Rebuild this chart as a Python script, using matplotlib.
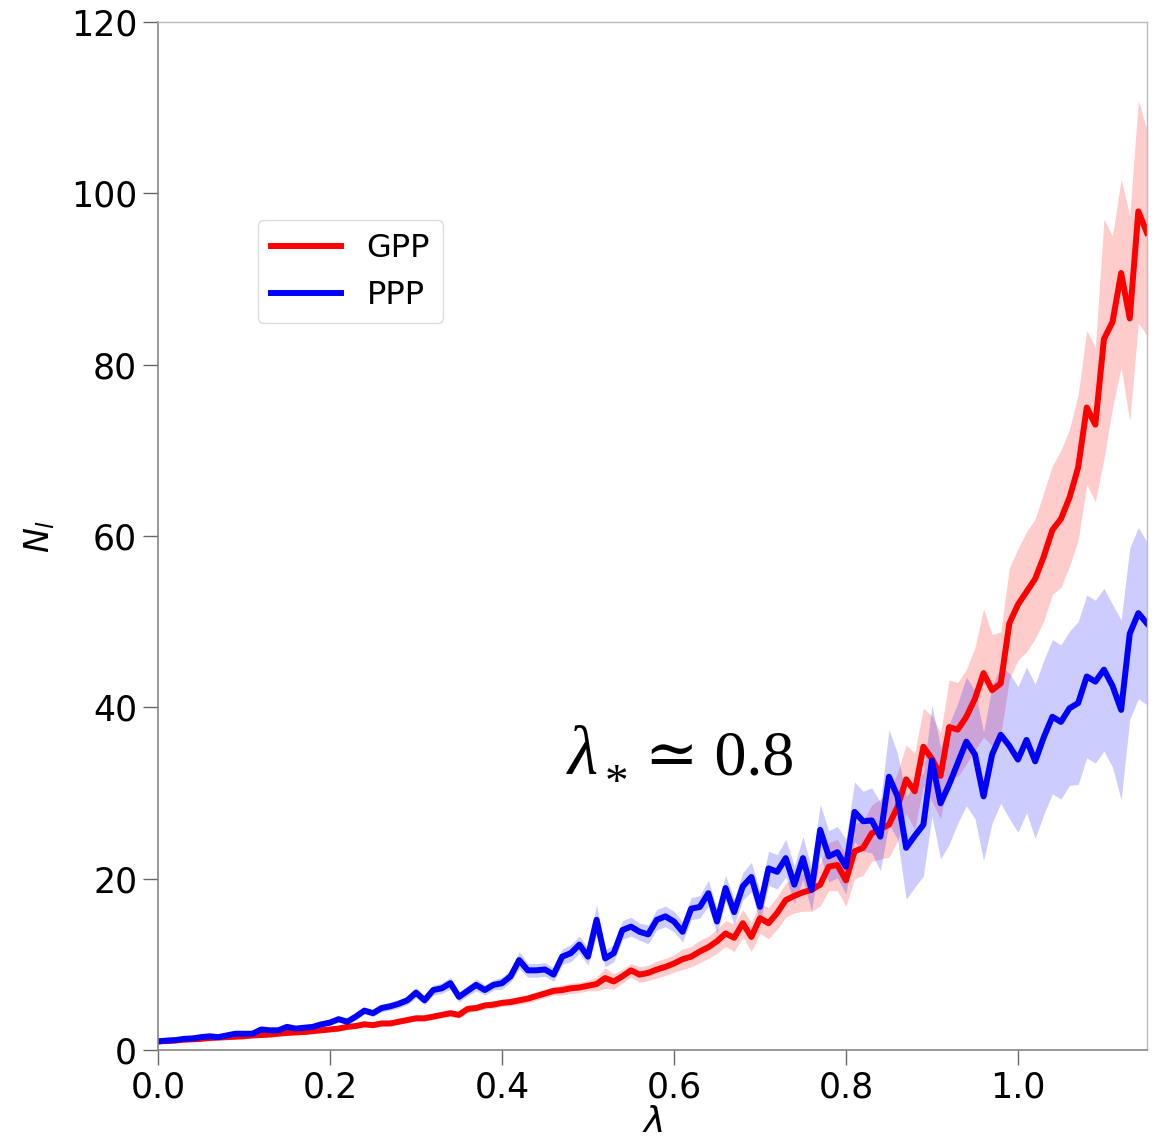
#! /usr/bin/env python3

import matplotlib
matplotlib.use('Agg')
import matplotlib.pyplot as plt
import numpy as np


# lambda grid, step 0.01
lam = np.round(np.arange(0, 116) * 0.01, 2)

gpp_mean = [
    1.0, 1.05, 1.1, 1.2, 1.25, 1.3, 1.4, 1.45, 1.5, 1.55,
    1.6, 1.7, 1.75, 1.8, 1.9, 2.0, 2.05, 2.1, 2.2, 2.3,
    2.4, 2.5, 2.7, 2.8, 3.0, 2.9, 3.1, 3.1, 3.3, 3.5,
    3.7, 3.7, 3.9, 4.1, 4.3, 4.1, 4.8, 4.9, 5.2, 5.3,
    5.5, 5.6, 5.8, 6.0, 6.3, 6.6, 6.9, 7.0, 7.2, 7.3,
    7.5, 7.7, 8.4, 8.0, 8.6, 9.3, 8.8, 9.0, 9.4, 9.7,
    10.1, 10.6, 10.9, 11.5, 12.0, 12.7, 13.6, 13.1, 14.8, 13.2,
    15.4, 14.8, 16.0, 17.5, 18.0, 18.4, 18.7, 19.3, 21.4, 21.6,
    19.8, 23.2, 23.6, 25.3, 25.8, 26.3, 28.4, 31.6, 30.2, 35.4,
    34.0, 32.0, 37.7, 37.4, 38.9, 41.0, 44.0, 42.0, 42.8, 49.8,
    52.0, 53.5, 55.0, 57.6, 60.7, 62.0, 64.5, 68.0, 75.0, 73.0,
    83.0, 85.0, 90.7, 85.4, 97.9, 95.4,
]
gpp_sd = [
    0.1, 0.1, 0.1, 0.1, 0.1, 0.1, 0.1, 0.1, 0.1, 0.1,
    0.15, 0.15, 0.15, 0.15, 0.2, 0.2, 0.2, 0.2, 0.2, 0.2,
    0.2, 0.2, 0.25, 0.25, 0.3, 0.3, 0.3, 0.3, 0.3, 0.3,
    0.3, 0.3, 0.35, 0.35, 0.4, 0.4, 0.4, 0.4, 0.4, 0.4,
    0.4, 0.45, 0.45, 0.5, 0.5, 0.5, 0.5, 0.6, 0.6, 0.6,
    0.6, 0.8, 1.2, 0.9, 0.8, 0.8, 0.9, 0.9, 1.0, 1.0,
    1.0, 1.2, 1.2, 1.3, 1.3, 1.4, 1.5, 1.6, 1.6, 1.7,
    1.8, 1.8, 1.9, 2.0, 2.0, 2.2, 2.5, 2.5, 2.8, 3.0,
    3.0, 3.2, 3.2, 3.3, 3.5, 3.8, 4.0, 4.0, 4.5, 4.5,
    5.0, 5.0, 5.5, 5.5, 5.5, 6.0, 7.5, 6.5, 6.0, 6.5,
    6.5, 7.0, 7.0, 7.5, 7.5, 8.0, 8.0, 8.5, 9.0, 9.0,
    14.0, 10.0, 11.0, 12.0, 13.0, 12.0,
]

ppp_mean = [
    1.0, 1.1, 1.15, 1.3, 1.35, 1.5, 1.6, 1.5, 1.7, 1.9,
    1.9, 1.9, 2.4, 2.3, 2.3, 2.7, 2.5, 2.6, 2.7, 3.0,
    3.2, 3.6, 3.3, 3.9, 4.6, 4.3, 4.9, 5.1, 5.4, 5.8,
    6.7, 5.8, 7.0, 7.2, 7.8, 6.2, 6.9, 7.6, 7.0, 7.6,
    7.8, 8.6, 10.5, 9.3, 9.3, 9.4, 8.8, 10.9, 11.3, 12.3,
    10.9, 15.2, 10.7, 11.3, 14.0, 14.4, 13.8, 13.5, 15.2, 15.6,
    15.0, 13.8, 16.5, 16.7, 18.3, 15.0, 18.9, 16.1, 19.1, 20.2,
    16.7, 21.2, 20.8, 22.4, 19.3, 22.4, 18.7, 25.7, 22.6, 23.1,
    21.4, 27.8, 26.7, 26.8, 24.9, 31.9, 29.6, 23.6, 25.0, 26.3,
    33.8, 28.8, 31.0, 33.5, 36.0, 34.5, 29.6, 34.5, 36.8, 35.5,
    33.9, 36.2, 33.7, 36.5, 38.9, 38.3, 39.9, 40.5, 43.6, 43.0,
    44.4, 42.5, 39.7, 48.6, 51.0, 49.8,
]
ppp_sd = [
    0.1, 0.1, 0.1, 0.1, 0.1, 0.1, 0.1, 0.1, 0.1, 0.1,
    0.15, 0.2, 0.2, 0.2, 0.2, 0.25, 0.25, 0.25, 0.3, 0.3,
    0.3, 0.35, 0.35, 0.4, 0.4, 0.4, 0.45, 0.45, 0.5, 0.5,
    0.6, 0.5, 0.6, 0.6, 0.7, 0.6, 0.6, 0.7, 0.6, 0.6,
    0.7, 0.7, 1.0, 0.8, 0.8, 0.8, 0.8, 0.9, 1.0, 1.0,
    1.0, 1.8, 1.0, 1.0, 1.1, 1.1, 1.0, 1.1, 1.2, 1.2,
    1.2, 1.2, 1.3, 1.3, 1.5, 1.4, 1.5, 1.5, 1.6, 1.7,
    1.8, 2.0, 2.0, 2.2, 2.2, 2.5, 2.5, 3.0, 3.0, 3.0,
    3.2, 3.5, 3.5, 3.8, 4.0, 5.5, 5.0, 6.0, 6.0, 6.0,
    6.5, 6.5, 7.0, 7.0, 7.5, 7.5, 7.5, 8.0, 8.0, 8.5,
    8.5, 8.5, 9.0, 9.0, 9.0, 9.0, 9.0, 9.5, 9.5, 9.5,
    9.5, 9.5, 10.5, 10.0, 10.0, 9.5,
]

series = [
    ('GPP', gpp_mean, gpp_sd, 'red'),
    ('PPP', ppp_mean, ppp_sd, 'blue'),
]

plt.rcParams['mathtext.fontset'] = 'dejavusans'

fig = plt.figure(figsize=(11.59, 11.36), dpi=100)
ax = fig.add_axes([0.1363, 0.0757, 0.8533, 0.9049])

for name, m, s, c in series:
    m = np.array(m)
    s = np.array(s)
    ax.fill_between(lam, m - s, m + s, color=c, alpha=0.2, lw=0)
    ax.plot(lam, m, color=c, lw=4.3, label=name)

ax.set_xlim(0, 1.15)
ax.set_ylim(0, 120)
ax.set_xticks([0.0, 0.2, 0.4, 0.6, 0.8, 1.0])
ax.set_yticks([0, 20, 40, 60, 80, 100, 120])
ax.tick_params(axis='both', labelsize=25, length=11, width=1,
               color='#666666', pad=4)

for side in ['left', 'bottom']:
    ax.spines[side].set_color('#888888')
    ax.spines[side].set_linewidth(1.2)
for side in ['top', 'right']:
    ax.spines[side].set_color('#bbbbbb')
    ax.spines[side].set_linewidth(1.0)

ax.set_xlabel(r'$\lambda$', fontsize=26, labelpad=0)
ax.set_ylabel(r'$N_l$', fontsize=24, labelpad=10)

# annotation in a serif face, built from plain text pieces
serif = ['Liberation Serif', 'DejaVu Serif']
ax.text(0.477, 32.2, '\u03bb', fontsize=50, family=serif, style='italic',
        ha='left', va='baseline')
ax.text(0.52, 29.6, '*', fontsize=34, family=serif,
        ha='left', va='baseline')
ax.text(0.566, 32.2, '\u2243 0.8', fontsize=46, family=serif,
        ha='left', va='baseline')

leg = ax.legend(loc='upper left', bbox_to_anchor=(0.085, 0.823), fontsize=23,
                handlelength=2.2, framealpha=1.0, edgecolor='#dddddd')

fig.savefig('out.png', dpi=100)
